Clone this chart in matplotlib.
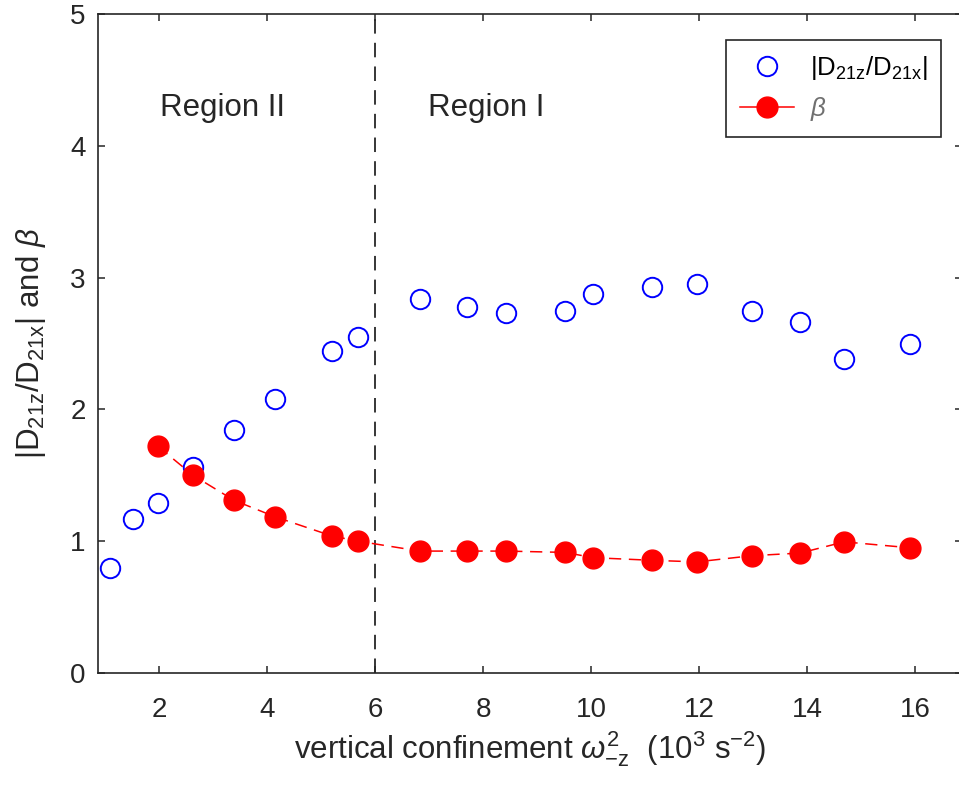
import matplotlib
matplotlib.use('Agg')
import matplotlib.pyplot as plt
from matplotlib.lines import Line2D

plt.rcParams['font.family'] = ['Liberation Sans', 'DejaVu Sans']
plt.rcParams['mathtext.fontset'] = 'custom'
plt.rcParams['mathtext.rm'] = 'Liberation Sans'
plt.rcParams['mathtext.it'] = 'Liberation Sans:italic'

# values
ratio_x = [1.09, 1.52, 1.98, 2.63, 3.39, 4.15, 5.20, 5.69, 6.83, 7.70,
           8.43, 9.52, 10.04, 11.13, 11.96, 12.98, 13.87, 14.69, 15.91]
ratio_y = [0.80, 1.17, 1.29, 1.56, 1.84, 2.08, 2.44, 2.55, 2.835, 2.775,
           2.73, 2.75, 2.875, 2.93, 2.95, 2.75, 2.66, 2.38, 2.50]
beta_x = [1.98, 2.63, 3.39, 4.15, 5.20, 5.69, 6.83, 7.70, 8.43, 9.52,
          10.04, 11.13, 11.96, 12.98, 13.87, 14.69, 15.91]
beta_y = [1.72, 1.50, 1.31, 1.185, 1.04, 1.00, 0.925, 0.925, 0.925, 0.915,
          0.875, 0.855, 0.843, 0.89, 0.91, 0.995, 0.95]
boundary = 6
x_ticks = [2, 4, 6, 8, 10, 12, 14, 16]
y_ticks = [0, 1, 2, 3, 4, 5]

axcol = '#262626'

fig = plt.figure(figsize=(9.59, 7.88), dpi=100)
ax = fig.add_axes([98 / 959, 115 / 788, 864 / 959, 659 / 788])

# boundary between the two regions
ax.axvline(boundary, color='black', lw=1.1, dashes=[9.5, 6], zorder=1)

ax.plot(ratio_x, ratio_y, linestyle='none', marker='o', markersize=14,
        markerfacecolor='none', markeredgecolor='blue', markeredgewidth=1.4, zorder=2)
ax.plot(beta_x, beta_y, color='red', lw=1.1, dashes=[8, 5], zorder=3)
ax.plot(beta_x, beta_y, linestyle='none', marker='o', markersize=15,
        color='red', zorder=4)

ax.text(3.17, 4.29, 'Region II', fontsize=22.5, color=axcol, ha='center', va='center')
ax.text(8.06, 4.29, 'Region I', fontsize=22.5, color=axcol, ha='center', va='center')

ax.set_xlim(0.87, 16.87)
ax.set_ylim(0, 5)
ax.set_xticks(x_ticks)
ax.set_yticks(y_ticks)
ax.tick_params(direction='in', length=5, width=1.1, top=True, right=True,
               labelsize=20, colors=axcol)
ax.tick_params(axis='x', pad=17)
ax.tick_params(axis='y', pad=9)
for s in ax.spines.values():
    s.set_color(axcol)
    s.set_linewidth(1.2)

ax.set_xlabel(r'vertical confinement $\it{\omega}^{2}_{\mathrm{-z}}$  (10$^{3}$ s$^{-2}$)',
              fontsize=22.5, color=axcol, labelpad=5)
ax.set_ylabel(r'|D$_{\mathrm{21z}}$/D$_{\mathrm{21x}}$| and $\it{\beta}$',
              fontsize=22.5, color=axcol, labelpad=16)

handles = [
    Line2D([], [], linestyle='none', marker='o', markersize=14, markerfacecolor='none',
           markeredgecolor='blue', markeredgewidth=1.4),
    Line2D([], [], color='red', lw=1.1, marker='o', markersize=15),
]
leg = ax.legend(handles, [r'|D$_{\mathrm{21z}}$/D$_{\mathrm{21x}}$|', r'$\it{\beta}$'],
                loc='upper right', bbox_to_anchor=(0.976, 0.961), borderaxespad=0,
                fontsize=18.5, fancybox=False, framealpha=1, edgecolor=axcol,
                handlelength=2.1, handletextpad=0.6, borderpad=0.55, labelspacing=0.5)
leg.get_frame().set_linewidth(1.2)
leg.get_texts()[1].set_color('#707070')

plt.savefig('out.png', dpi=100)
